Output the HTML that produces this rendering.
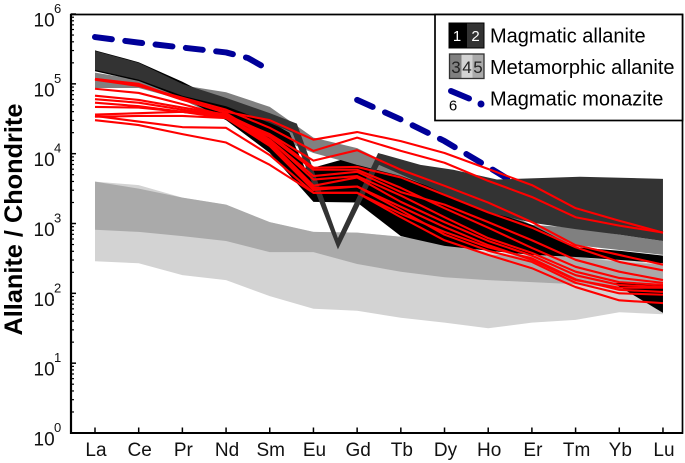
<!DOCTYPE html>
<html lang="en">
<head>
<meta charset="utf-8">
<title>Allanite REE chart</title>
<style>
html,body{margin:0;padding:0;background:#fff;width:685px;height:463px;overflow:hidden}
svg{display:block;font-family:"Liberation Sans",Arial,sans-serif}
</style>
</head>
<body>
<svg id="chart" xmlns="http://www.w3.org/2000/svg" width="685" height="463" viewBox="0 0 685 463">
  <rect x="0" y="0" width="685" height="463" fill="#fff"/>
  <g id="bands"></g>
  <g id="reds"></g>
  <g id="axes"></g>
  <text transform="translate(22,335.5) rotate(-90)" font-size="25.3" font-weight="bold" fill="#000">Allanite / Chondrite</text>
  <g>
    <rect x="435" y="14.5" width="247.5" height="106" fill="#fff" stroke="#000" stroke-width="1.7"/>
    <rect x="449" y="23" width="18" height="25" fill="#000"/>
    <rect x="467" y="23" width="17" height="25" fill="#333"/>
    <rect x="449" y="23" width="35" height="25" fill="none" stroke="#000" stroke-width="1"/>
    <text x="457" y="41" font-size="15" fill="#fff" text-anchor="middle">1</text>
    <text x="475.5" y="41" font-size="15" fill="#fff" text-anchor="middle">2</text>
    <text x="490" y="42.5" font-size="20" fill="#000">Magmatic allanite</text>
    <rect x="449.5" y="54" width="12" height="24.5" fill="#808080"/>
    <rect x="461.5" y="54" width="11" height="24.5" fill="#d3d3d3"/>
    <rect x="472.5" y="54" width="11.5" height="24.5" fill="#aaa"/>
    <rect x="449.5" y="54" width="34.5" height="24.5" fill="none" stroke="#333" stroke-width="1.3"/>
    <text x="456" y="73" font-size="17" fill="#222" text-anchor="middle">3</text>
    <text x="467" y="73" font-size="17" fill="#222" text-anchor="middle">4</text>
    <text x="478" y="73" font-size="17" fill="#222" text-anchor="middle">5</text>
    <text x="490" y="74" font-size="20" fill="#000">Metamorphic allanite</text>
    <line x1="451" y1="91" x2="469" y2="98.5" stroke="#000099" stroke-width="6" stroke-linecap="round"/>
    <circle cx="481" cy="104" r="3.5" fill="#000099"/>
    <text x="453" y="110.5" font-size="15" fill="#000" text-anchor="middle">6</text>
    <text x="490" y="105.5" font-size="20" fill="#000">Magmatic monazite</text>
  </g>
</svg>
<script>
// Categories and y-axis decades
const categories = ['La','Ce','Pr','Nd','Sm','Eu','Gd','Tb','Dy','Ho','Er','Tm','Yb','Lu'];
const yExponents = [0,1,2,3,4,5,6];
const minorMultipliers = [2,3,4,5,6,7,8,9];
const allIdx = [0,1,2,3,4,5,6,7,8,9,10,11,12,13];

// All series values are log10(Allanite / Chondrite)
const field5Top = [3.60,3.55,3.37,3.27,3.02,2.88,2.87,2.81,2.72,2.59,2.55,2.52,2.49,2.41];
const field5Bottom = [2.46,2.43,2.26,2.19,1.96,1.78,1.75,1.65,1.58,1.50,1.58,1.62,1.73,1.70];
const field4Top = [3.60,3.50,3.37,3.27,3.02,2.88,2.87,2.81,2.72,2.55,2.54,2.52,2.45,2.41];
const field4Bottom = [2.91,2.88,2.82,2.75,2.59,2.59,2.42,2.31,2.23,2.19,2.16,2.13,2.08,2.05];
const field3Top = [5.16,5.06,4.98,4.88,4.67,4.23,4.08,3.77,3.48,3.27,2.98,2.94,2.84,2.75];
const field3Bottom = [4.94,4.94,4.77,4.48,4.27,4.01,3.84,3.55,3.34,3.13,2.91,2.69,2.62,2.55];
const field1TopIdx = [0,1,2,3,4,4.45,4.8,5,5.62,6,7,8,9,10,11,12,13];
const field1Top = [5.48,5.31,5.03,4.71,4.46,4.30,3.80,3.80,3.91,3.84,3.68,3.45,3.19,2.98,2.66,2.61,2.54];
const field1Bottom = [5.18,5.04,4.80,4.48,4.01,3.31,3.30,2.82,2.68,2.61,2.55,2.52,2.48,2.43];
const field1bIdx = [11.86,13,13];
const field1bValues = [2.15,2.13,1.72];
const field2TopIdx = [0,1,2,3,4,4.62,5.56,6.48,7.45,8.2,9.2,11.1,13];
const field2Top = [5.47,5.30,5.00,4.80,4.58,4.43,2.79,4.01,3.84,3.77,3.63,3.67,3.64];
const field2BottomIdx = [0,1,2,3,4,4.52,5.56,6.5,7.45,8.88,10,11,12,13];
const field2Bottom = [5.20,5.06,4.83,4.68,4.44,4.30,2.63,3.84,3.58,3.18,3.01,2.92,2.84,2.75];
const monaziteAIdx = [0,1,2,3,3.5,3.9];
const monaziteA = [5.67,5.59,5.52,5.45,5.37,5.23];
const monaziteBIdx = [6,7,8,9,9.5];
const monaziteB = [4.77,4.49,4.18,3.81,3.62];

// Individual allanite analyses
const sample1 = [5.07,4.98,4.77,4.60,4.48,4.20,4.31,4.18,4.01,3.78,3.55,3.22,3.04,2.87];
const sample2 = [5.06,4.97,4.80,4.63,4.37,4.04,4.23,4.04,3.87,3.61,3.38,3.09,2.97,2.87];
const sample3 = [4.93,4.87,4.71,4.54,4.28,3.90,4.05,3.77,3.54,3.30,3.02,2.69,2.55,2.41];
const sample4 = [4.83,4.77,4.66,4.56,4.27,3.80,3.81,3.66,3.41,3.16,2.94,2.66,2.45,2.33];
const sample5 = [4.78,4.73,4.63,4.54,4.24,3.77,3.77,3.51,3.22,2.94,2.65,2.38,2.22,2.15];
const sample6 = [4.73,4.68,4.60,4.51,4.20,3.63,3.68,3.40,3.09,2.79,2.58,2.31,2.16,2.12];
const sample7 = [4.67,4.66,4.60,4.53,4.17,3.54,3.66,3.31,3.02,2.75,2.54,2.26,2.12,2.09];
const sample8 = [4.56,4.58,4.60,4.54,4.14,3.51,3.53,3.24,2.95,2.69,2.48,2.19,2.08,2.08];
const sample9 = [4.53,4.54,4.54,4.51,4.11,3.48,3.53,3.19,2.84,2.61,2.45,2.15,2.00,1.98];
const sample10 = [4.54,4.46,4.38,4.37,3.98,3.44,3.44,3.14,2.88,2.66,2.50,2.20,2.05,2.02];
const sample11 = [4.48,4.41,4.28,4.16,3.84,3.44,3.44,3.09,2.76,2.55,2.36,2.09,1.90,1.86];
const sample12 = [5.07,5.00,4.78,4.58,4.20,3.68,3.74,3.45,3.27,3.02,2.76,2.48,2.31,2.19];
const samples = [sample1,sample2,sample3,sample4,sample5,sample6,sample7,sample8,sample9,sample10,sample11,sample12];

const NS = 'http://www.w3.org/2000/svg';
function xPos(i){ return 95 + 43.69 * i; }
function yPos(logV){ return 433 - 69.83 * logV; }
function mk(parent, tag, attrs){
  const el = document.createElementNS(NS, tag);
  for (const k in attrs) el.setAttribute(k, attrs[k]);
  parent.appendChild(el);
  return el;
}
function linePath(idx, vals){
  return idx.map((i,n)=>(n?'L':'M')+xPos(i).toFixed(2)+' '+yPos(vals[n]).toFixed(2)).join(' ');
}
function bandPath(topIdx, top, botIdx, bot){
  const a = topIdx.map((i,n)=>xPos(i).toFixed(2)+' '+yPos(top[n]).toFixed(2));
  const b = botIdx.map((i,n)=>xPos(i).toFixed(2)+' '+yPos(bot[n]).toFixed(2)).reverse();
  return 'M'+a.concat(b).join(' L')+' Z';
}

const bands = document.getElementById('bands');
const f5 = mk(bands,'path',{d:bandPath(allIdx,field5Top,allIdx,field5Bottom),fill:'#d3d3d3'});


const f4 = mk(bands,'path',{d:bandPath(allIdx,field4Top,allIdx,field4Bottom),fill:'#aaaaaa'});


const f3 = mk(bands,'path',{d:bandPath(allIdx,field3Top,allIdx,field3Bottom),fill:'#808080'});


const mA = mk(bands,'path',{d:linePath(monaziteAIdx,monaziteA),fill:'none',stroke:'#000099','stroke-width':6,'stroke-linecap':'round','stroke-linejoin':'round','stroke-dasharray':'17 13.5'});


const mB = mk(bands,'path',{d:linePath(monaziteBIdx,monaziteB),fill:'none',stroke:'#000099','stroke-width':6,'stroke-linecap':'round','stroke-linejoin':'round','stroke-dasharray':'17 13.5'});


const f1 = mk(bands,'path',{d:bandPath(field1TopIdx,field1Top,allIdx,field1Bottom),fill:'#000'});


const f1b = mk(bands,'path',{d:linePath(field1bIdx,field1bValues)+' Z',fill:'#000'});


const f2 = mk(bands,'path',{d:bandPath(field2TopIdx,field2Top,field2BottomIdx,field2Bottom),fill:'#333333'});



const reds = document.getElementById('reds');
samples.forEach(function(s){
  const p = mk(reds,'path',{d:linePath(allIdx,s),fill:'none',stroke:'#ff0000','stroke-width':2.1,'stroke-linejoin':'round'});
  
  
});

const axes = document.getElementById('axes');
const frame = mk(axes,'path',{d:'M71 14.5 H682.5 V433 H71 Z',fill:'none',stroke:'#000','stroke-width':1.7});


const spine = mk(axes,'line',{x1:71,y1:14,x2:71,y2:434,stroke:'#000','stroke-width':2.2});


const xSpine = mk(axes,'line',{x1:70,y1:433,x2:683,y2:433,stroke:'#000','stroke-width':2});



yExponents.forEach(function(e){
  const y = yPos(e);
  const t = mk(axes,'line',{x1:71,y1:y,x2:76,y2:y,stroke:'#000','stroke-width':1.5});
  
  
  const lab = mk(axes,'text',{x:33.5,y:y+12.5,'font-size':19,fill:'#111'});
  lab.textContent = '10';
  
  
  const sup = mk(axes,'text',{x:54,y:y-1,'font-size':13,fill:'#111'});
  sup.textContent = String(e);
  
  
  if (e < 6) minorMultipliers.forEach(function(m){
    const ym = yPos(e + Math.log10(m));
    const mt = mk(axes,'line',{x1:71,y1:ym,x2:74,y2:ym,stroke:'#000','stroke-width':1.2});
    
    
  });
});

categories.forEach(function(c,i){
  const x = xPos(i);
  const t = mk(axes,'line',{x1:x,y1:433,x2:x,y2:427.5,stroke:'#000','stroke-width':1.5});
  
  
  const lab = mk(axes,'text',{x:x+1,y:456,'font-size':19,fill:'#111','text-anchor':'middle'});
  lab.textContent = c;
  
  
});
</script>
</body>
</html>
